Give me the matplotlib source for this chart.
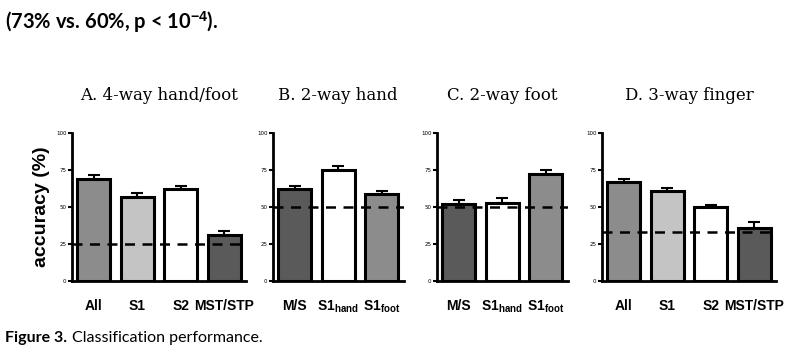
import numpy as np
import matplotlib.pyplot as plt

# Données (précision en %)
labels_a = ["All", "S1", "S2", "MST/STP"]
acc_a = [69, 57, 62, 31]
err_a = [2.5, 2.5, 2.5, 2.5]

labels_b = ["M/S", "S1$_\\mathrm{hand}$", "S1$_\\mathrm{foot}$"]
acc_b = [62, 75, 59]
err_b = [2, 2.5, 2]

labels_c = ["M/S", "S1$_\\mathrm{hand}$", "S1$_\\mathrm{foot}$"]
acc_c = [52, 53, 72]
err_c = [3, 3, 3]

labels_d = ["All", "S1", "S2", "MST/STP"]
acc_d = [67, 61, 50, 36]
err_d = [2, 2, 1.5, 4]

chance = [25, 50, 50, 33.3]
titles = ["A. 4-way hand/foot", "B. 2-way hand", "C. 2-way foot", "D. 3-way finger"]

dark, mid, light, white = "#5a5a5a", "#8c8c8c", "#c4c4c4", "#ffffff"
colors = [[mid, light, white, dark],
          [dark, white, mid],
          [dark, white, mid],
          [mid, light, white, dark]]

panels = [(labels_a, acc_a, err_a), (labels_b, acc_b, err_b),
          (labels_c, acc_c, err_c), (labels_d, acc_d, err_d)]
lefts = [72, 273, 437, 602]

plt.rcParams["mathtext.fontset"] = "custom"
plt.rcParams["mathtext.rm"] = "Liberation Sans:bold"

fig = plt.figure(figsize=(8, 3.54), dpi=100)

for i, (labs, acc, err) in enumerate(panels):
    n = len(labs)
    w = n * 43.5
    ax = fig.add_axes([lefts[i] / 800, 1 - 281 / 354, w / 800, 148 / 354])
    x = np.arange(n)
    ax.bar(x, acc, width=0.77, color=colors[i], edgecolor="black", linewidth=2.2, zorder=2)
    ax.errorbar(x, acc, yerr=[np.zeros(n), err], fmt="none", ecolor="black",
                elinewidth=1.5, capsize=4, capthick=1.5, zorder=3)
    ax.axhline(chance[i], color="black", linestyle=(0, (4, 3)), linewidth=1.8, zorder=4)
    ax.set_xlim(-0.5, n - 0.5)
    ax.set_ylim(0, 100)
    ax.set_yticks([0, 25, 50, 75, 100])
    ax.tick_params(axis="y", labelsize=4, length=3, width=1.5, pad=1)
    ax.set_xticks(x)
    ax.set_xticklabels(labs, fontsize=10, family="Liberation Sans", fontweight="bold")
    ax.tick_params(axis="x", length=0, pad=13)
    for s in ["top", "right"]:
        ax.spines[s].set_visible(False)
    for s in ["left", "bottom"]:
        ax.spines[s].set_linewidth(2)
    ax.set_title(titles[i], fontsize=12, family="DejaVu Serif", pad=24)
    if i == 0:
        ax.set_ylabel("accuracy (%)", fontsize=14, family="Liberation Sans",
                      fontweight="bold", labelpad=4)

fig.text(0.006, 0.92, "(73% vs. 60%, p < 10$^{-4}$).", fontsize=14.5, fontweight="bold",
         family="Lato")
fig.text(0.006, 0.035, "Figure 3.", fontsize=11.5, fontweight="bold", family="Lato")
fig.text(0.09, 0.035, "Classification performance.", fontsize=11.5, family="Lato")

fig.savefig("out.png", dpi=100)
